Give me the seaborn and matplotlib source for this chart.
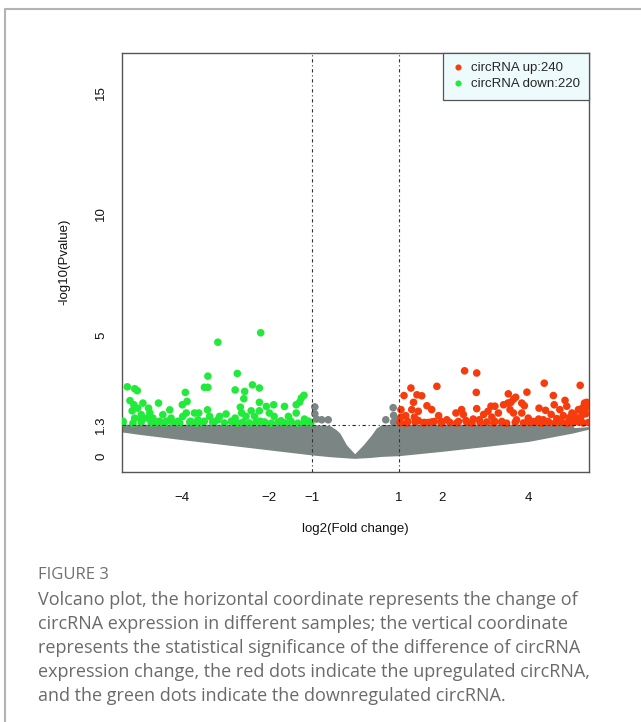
import numpy as np
import pandas as pd
import matplotlib
matplotlib.use("Agg")
import matplotlib.pyplot as plt
from matplotlib.lines import Line2D
import seaborn as sns

# down-regulated circRNA (green)
green_x = [-2.19, -3.18, -3.41, -2.73, -2.38, -2.22, -3.49, -3.41, -2.78, -2.56,
           -2.58, -3.93, -5.27, -5.10, -5.04, -5.21, -5.12, -5.16, -5.03, -4.91,
           -4.95, -4.78, -4.75, -4.81, -4.68, -4.55, -4.63, -4.45, -4.29, -4.26,
           -4.37, -4.10, -4.00, -3.89, -3.91, -3.99, -3.81, -3.72, -3.62, -3.64,
           -3.49, -3.42, -3.37, -3.26, -3.18, -3.14, -2.99, -2.87, -2.78, -2.66,
           -2.63, -2.53, -2.41, -2.33, -2.22, -2.22, -2.20, -2.06, -1.99, -1.89,
           -1.88, -1.72, -1.64, -1.55, -1.49, -1.37, -1.37, -1.25, -1.19, -1.29,
           -1.18, -1.08, -5.10, -5.37, -4.95, -4.53,
           -5.37, -5.14, -4.95, -4.72, -4.53, -4.41, -4.22, -4.06, -3.83, -3.68,
           -3.53, -3.30, -3.03, -2.83, -2.72, -2.60, -2.45, -2.30, -2.10, -1.95,
           -1.79, -1.64, -1.49, -1.33, -1.18, -1.03]
green_y = [5.09, 4.70, 3.30, 3.41, 2.94, 2.81, 2.84, 2.84, 2.73, 2.67,
           2.37, 2.63, 2.86, 2.78, 2.70, 2.29, 2.12, 1.87, 1.98, 2.19,
           1.71, 1.98, 1.78, 1.57, 1.57, 2.19, 1.37, 1.71, 1.91, 1.57,
           1.44, 1.44, 2.12, 2.26, 1.78, 1.64, 1.44, 1.78, 1.78, 1.50,
           1.44, 1.91, 1.64, 1.41, 1.50, 1.64, 1.74, 1.44, 1.57, 2.02,
           1.78, 1.64, 1.87, 1.64, 2.22, 1.87, 1.44, 2.05, 1.78, 2.12,
           1.64, 1.46, 2.05, 1.64, 1.44, 1.78, 2.12, 2.40, 2.51, 2.23,
           1.53, 1.44, 1.57, 1.44, 1.50, 1.44,
           1.38, 1.36, 1.40, 1.37, 1.41, 1.36, 1.39, 1.37, 1.40, 1.36,
           1.38, 1.41, 1.37, 1.39, 1.36, 1.40, 1.37, 1.38, 1.41, 1.36,
           1.39, 1.37, 1.40, 1.36, 1.38, 1.37]

# up-regulated circRNA (red)
red_x = [2.52, 2.80, 2.79, 1.88, 1.28, 1.12, 1.42, 1.53, 1.34, 1.05,
         1.16, 1.05, 1.03, 1.21, 1.30, 1.45, 1.36, 1.45, 1.59, 1.65,
         1.76, 1.82, 1.68, 1.92, 1.98, 2.11, 2.32, 2.38, 2.45, 2.49,
         2.55, 2.72, 2.80, 2.86, 2.96, 3.06, 3.13, 3.22, 3.15, 3.30,
         3.38, 3.42, 3.53, 3.52, 3.59, 3.65, 3.70, 3.57, 3.65, 3.84,
         3.90, 3.96, 3.84, 3.99, 4.11, 4.24, 4.36, 4.39, 4.57, 4.59,
         4.52, 4.72, 4.80, 4.84, 4.88, 5.00, 5.06, 5.15, 5.19, 5.29,
         5.34, 5.30, 5.24, 5.38, 5.11, 4.92, 4.69, 4.34, 4.23, 4.45,
         3.72, 3.22, 5.20, 5.32, 5.05, 4.95, 5.25, 4.65,
         1.03, 1.18, 1.38, 1.57, 1.76, 1.99, 2.18, 2.34, 2.57, 2.69,
         2.88, 3.03, 3.19, 3.38, 3.49, 3.69, 3.88, 4.03, 4.19, 4.30,
         4.46, 4.61, 4.76, 4.88, 5.03, 5.15, 5.26, 5.38]
red_y = [3.52, 3.43, 2.63, 2.88, 2.81, 2.50, 2.53, 2.49, 2.22, 1.92,
         1.67, 1.61, 1.39, 1.43, 1.92, 1.85, 1.61, 1.47, 1.39, 2.08,
         1.92, 1.43, 1.39, 1.67, 1.43, 1.50, 1.78, 1.43, 1.92, 1.72,
         1.47, 1.53, 1.96, 1.50, 1.72, 1.85, 2.06, 2.06, 1.61, 1.78,
         1.43, 2.12, 2.57, 2.19, 2.22, 2.35, 2.43, 1.92, 1.78, 2.19,
         2.08, 2.64, 1.78, 1.57, 1.43, 1.98, 3.01, 1.89, 2.50, 2.12,
         1.72, 1.92, 1.67, 2.30, 2.06, 1.78, 1.57, 1.92, 2.92, 2.19,
         2.22, 1.92, 1.72, 2.06, 1.50, 1.43, 1.47, 1.50, 1.53, 1.43,
         1.50, 1.43, 1.60, 1.75, 1.70, 1.60, 2.00, 1.55,
         1.38, 1.36, 1.40, 1.37, 1.41, 1.36, 1.39, 1.37, 1.40, 1.36,
         1.38, 1.41, 1.37, 1.39, 1.36, 1.40, 1.37, 1.38, 1.41, 1.36,
         1.39, 1.37, 1.40, 1.36, 1.38, 1.41, 1.37, 1.39]

# the few non-significant points that sit above the 1.3 line
grey_x = [-0.94, -0.94, -0.90, -0.78, -0.63, 0.70, 0.87, 0.88, 0.96, 0.88]
grey_y = [2.03, 1.75, 1.53, 1.50, 1.50, 1.50, 2.00, 1.68, 1.50, 1.40]

# outline of the dense grey cloud of non-significant circRNAs
env_x = [-5.4, -5.0, -4.0, -3.0, -2.0, -1.0, -0.6, -0.45, -0.36, -0.21, -0.02,
         0.18, 0.37, 0.48, 0.6, 1.0, 2.0, 3.0, 4.0, 5.0, 5.05, 5.4]
env_top = [1.32, 1.32, 1.32, 1.32, 1.32, 1.30, 1.27, 1.10, 0.95, 0.47, 0.10,
           0.47, 0.88, 1.16, 1.30, 1.32, 1.32, 1.32, 1.32, 1.32, 1.18, 1.22]
env_low = [1.00, 0.90, 0.68, 0.47, 0.26, 0.05, -0.02, -0.04, -0.05, -0.07, -0.09,
           -0.07, -0.05, -0.03, -0.01, 0.02, 0.20, 0.40, 0.61, 0.95, 0.97, 1.12]

x_ticks = [-4, -2, -1, 1, 2, 4]
y_ticks = [0, 1.3, 5, 10, 15]
y_tick_labels = ["0", "1.3", "5", "10", "15"]
legend_labels = ["circRNA up:240", "circRNA down:220"]

caption_title = "FIGURE 3"
caption_lines = [
    "Volcano plot, the horizontal coordinate represents the change of",
    "circRNA expression in different samples; the vertical coordinate",
    "represents the statistical significance of the difference of circRNA",
    "expression change, the red dots indicate the upregulated circRNA,",
    "and the green dots indicate the downregulated circRNA.",
]

RED = "#f63c0c"
GREEN = "#22ea3a"
GREY = "#7a8584"

sns.set_style("white")
plt.rcParams["font.family"] = ["Liberation Sans", "DejaVu Sans"]

pts = pd.DataFrame({
    "x": grey_x + green_x + red_x,
    "y": grey_y + green_y + red_y,
    "group": ["ns"] * len(grey_x) + ["down"] * len(green_x) + ["up"] * len(red_x),
})

fig = plt.figure(figsize=(6.41, 7.22), dpi=100)
ax = fig.add_axes([0.1899, 0.3467, 0.7294, 0.5803])

ax.fill_between(env_x, env_low, env_top, color=GREY, lw=0, zorder=1)
sns.scatterplot(data=pts, x="x", y="y", hue="group",
                palette={"ns": GREY, "down": GREEN, "up": RED},
                s=30, linewidth=0, legend=False, ax=ax, zorder=3)

dash = (0, (3, 2.5, 1, 2.5))
for v in (-1, 1):
    ax.axvline(v, color="#333333", lw=0.8, ls=dash, zorder=4)
ax.axhline(1.3, color="#222222", lw=0.8, ls=dash, zorder=4)

ax.set_xlim(-5.4, 5.4)
ax.set_ylim(-0.64, 16.64)
ax.set_xticks(x_ticks)
ax.set_yticks(y_ticks)
ax.set_yticklabels(y_tick_labels, rotation=90, va="center")
ax.tick_params(axis="both", direction="out", length=6.5, width=0.9,
               color="#444444", labelsize=9.5, labelcolor="#111111")
ax.tick_params(axis="x", pad=8)
ax.tick_params(axis="y", pad=4)
for sp in ax.spines.values():
    sp.set_visible(True)
    sp.set_color("#555555")
    sp.set_linewidth(1.0)

ax.set_xlabel("log2(Fold change)", fontsize=9.5, color="#111111", labelpad=14)
ax.set_ylabel("-log10(Pvalue)", fontsize=9.5, color="#111111", labelpad=18)

handles = [Line2D([], [], marker="o", ls="", color=RED, markersize=3.4),
           Line2D([], [], marker="o", ls="", color=GREEN, markersize=3.4)]
leg = ax.legend(handles, legend_labels, loc="upper right", borderaxespad=0,
                fancybox=False, edgecolor="#555555", facecolor="#eefbfd",
                framealpha=1, fontsize=9.5, handlelength=0.8, handletextpad=0.6,
                borderpad=0.7, labelspacing=0.3)
leg.get_frame().set_linewidth(0.9)

# page frame of the figure panel
fig.add_artist(Line2D([4.5 / 641, 1], [1 - 9 / 722] * 2, transform=fig.transFigure,
                      color="#b3b3b3", lw=1.5))
fig.add_artist(Line2D([4.5 / 641] * 2, [0, 1 - 9 / 722], transform=fig.transFigure,
                      color="#b3b3b3", lw=1.5))

fig.text(38 / 641, 1 - 575 / 722, caption_title, fontsize=12, color="#707070",
         family=["Open Sans", "DejaVu Sans"], va="center", ha="left")
for i, line in enumerate(caption_lines):
    fig.text(38 / 641, 1 - (599.7 + 24.1 * i) / 722, line, fontsize=13,
             color="#6a6a6a", family=["Open Sans", "DejaVu Sans"],
             va="center", ha="left")

fig.savefig("out.png", dpi=100, facecolor="white")
